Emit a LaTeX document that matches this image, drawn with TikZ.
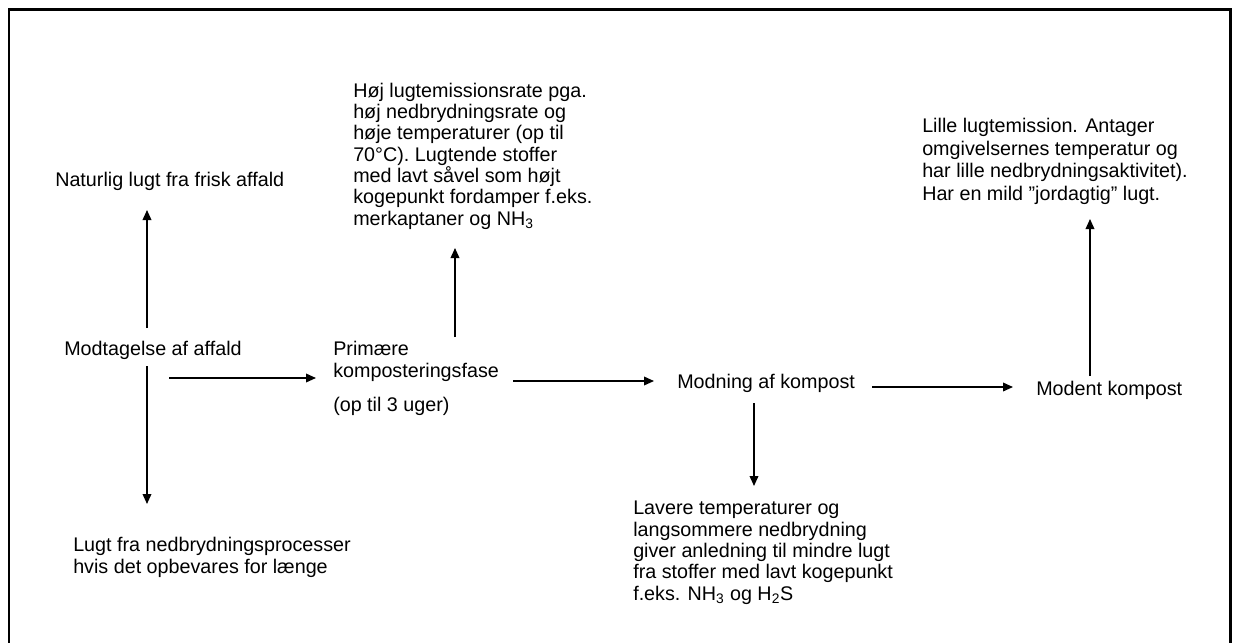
\documentclass[tikz,border=0pt]{standalone}
\usepackage{fontspec}
\setmainfont{Liberation Sans}
\usetikzlibrary{arrows.meta}
\begin{document}
\begin{tikzpicture}[x=0.75pt,y=-0.75pt,
  txt/.style={anchor=base west,inner sep=0pt,align=left,
    font=\fontsize{14.8}{16}\selectfont},
  arr/.style={line width=1.1pt,-{Triangle[length=7.5pt,width=6.5pt]}}]
\useasboundingbox (0,0) rectangle (1236,643);
\draw[line width=2pt] (9,650) -- (9,9.5) -- (1230.5,9.5) -- (1230.5,650);
% stages (multi-line nodes sit on their last line)
\node[txt] (modtag) at (64,355) {Modtagelse af affald};
\node[txt] (prim) at (333,377) {Primære\\komposteringsfase};
\node[txt] (uger) at (333,411) {(op til 3 uger)};
\node[txt] (modning) at (677,388) {Modning af kompost};
\node[txt] (modent) at (1036,395) {Modent kompost};
% smell notes
\node[txt] (natur) at (55,186) {Naturlig lugt fra frisk affald};
\node[txt] (lugt) at (73,573) {Lugt fra nedbrydningsprocesser\\hvis det opbevares for længe};
\node[txt] (hoej) at (353,225) {Høj lugtemissionsrate pga.\\høj nedbrydningsrate og\\høje temperaturer (op til\\70°C). Lugtende stoffer\\med lavt såvel som højt\\kogepunkt fordamper f.eks.\\merkaptaner og NH\textsubscript{3}};
\node[txt] (lavere) at (633,600) {Lavere temperaturer og\\langsommere nedbrydning\\giver anledning til mindre lugt\\fra stoffer med lavt kogepunkt\\f.eks. NH\textsubscript{3} og H\textsubscript{2}S};
\node[txt,font=\fontsize{14.8}{16.8}\selectfont] (lille) at (922,200) {Lille lugtemission. Antager\\omgivelsernes temperatur og\\har lille nedbrydningsaktivitet).\\Har en mild ”jordagtig” lugt.};
% arrow ends
\coordinate (a1) at (147,328);
\coordinate (a2) at (147,210);
\coordinate (b1) at (147,366);
\coordinate (b2) at (147,504);
\coordinate (c1) at (169,378);
\coordinate (c2) at (316,378);
\coordinate (d1) at (455,337);
\coordinate (d2) at (455,248);
\coordinate (e1) at (513,381);
\coordinate (e2) at (654,381);
\coordinate (f1) at (754,403);
\coordinate (f2) at (754,486);
\coordinate (g1) at (872,387);
\coordinate (g2) at (1013,387);
\coordinate (h1) at (1090,376);
\coordinate (h2) at (1090,219);
\draw[arr] (a1) -- (a2);
\draw[arr] (b1) -- (b2);
\draw[arr] (c1) -- (c2);
\draw[arr] (d1) -- (d2);
\draw[arr] (e1) -- (e2);
\draw[arr] (f1) -- (f2);
\draw[arr] (g1) -- (g2);
\draw[arr] (h1) -- (h2);
\end{tikzpicture}
\end{document}
